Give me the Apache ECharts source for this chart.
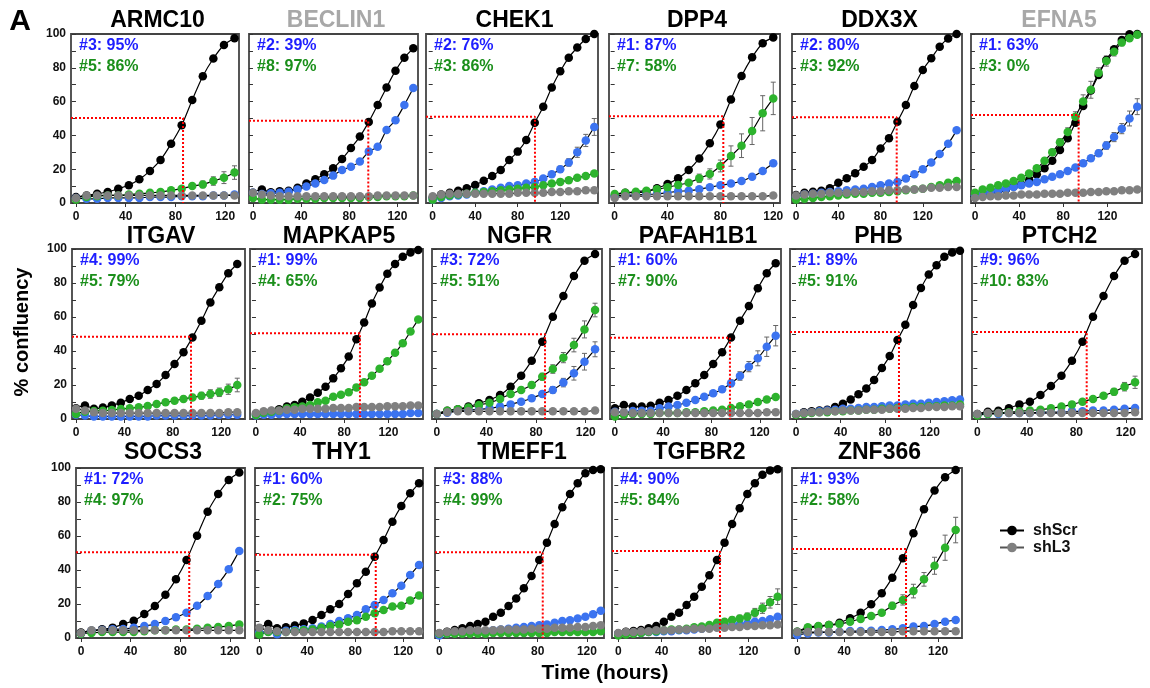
<!DOCTYPE html>
<html>
<head>
<meta charset="utf-8">
<title>confluency panels</title>
<script src="https://cdn.jsdelivr.net/npm/echarts@6/dist/echarts.min.js"></script>
<style>
  html, body { margin: 0; padding: 0; background: #fff; }
  #main { width: 1150px; height: 688px; }
</style>
</head>
<body>
<div id="main"></div>
<script>
// sampling times (hours)
var tA  = [0, 8.5, 17, 25.5, 34, 42.5, 51, 59.5, 68, 76.5, 85, 93.5, 102, 110.5, 119, 127.5];
var tA2 = [0, 8, 16, 24, 32, 40, 48, 56, 64, 72, 80, 88, 96, 104, 112, 120];
var tA3 = [0, 9, 18, 27, 36, 45, 54, 63, 72, 81, 90, 99, 108, 117, 126, 135];
var tB  = [0, 7.4, 14.8, 22.2, 29.6, 37, 44.4, 51.8, 59.2, 66.6, 74, 81.4, 88.8, 96.2, 103.6, 111, 118.4, 125.8, 133.2];
var tC  = [0, 8, 16, 24, 32, 40, 48, 56, 64, 72, 80, 88, 96, 104, 112, 120, 128, 136, 144, 152];
var tD  = [0, 7, 14, 21, 28, 35, 42, 49, 56, 63, 70, 77, 84, 91, 98, 105, 112, 119, 126, 133, 140, 147];
var tE  = [0, 6.25, 12.5, 18.75, 25, 31.25, 37.5, 43.75, 50, 56.25, 62.5, 68.75, 75, 81.25, 87.5, 93.75, 100, 106.25, 112.5, 118.75, 125, 131.25];

// % confluency: shScr (black), shL3 (gray), hairpin 1 (blue), hairpin 2 (green)
var armc10Scr = [3.5, 4.5, 5.5, 6.5, 8.5, 10.5, 14, 19, 25.5, 35, 46, 61, 75, 85.5, 93.5, 97.5];
var armc10L3  = [3, 4.5, 4.5, 4.5, 4.5, 4.5, 4.5, 4.5, 4.5, 4.5, 4.5, 4.5, 4.5, 4.5, 4.5, 4.5];
var armc10Kd1 = [3, 2.5, 2.5, 3, 3, 3, 3, 3.5, 3.5, 3.5, 4, 4, 4, 4.5, 4.5, 5];
var armc10Kd2 = [2, 3.5, 4, 4.5, 4.5, 5, 5.5, 6, 6.5, 7.5, 8.5, 10, 11, 13, 15, 18];

var beclin1Scr = [6, 8, 6.3, 7, 7.3, 9, 11.5, 14, 17, 20.5, 26, 32.5, 39.3, 48, 58, 68.4, 78.3, 86, 91.5];
var beclin1L3  = [6, 5, 4.5, 4, 4, 4, 4, 4, 4, 4, 4, 4, 4, 4, 4.5, 4.5, 4.5, 4.5, 4.5];
var beclin1Kd1 = [6, 5.3, 5.7, 6, 6.7, 8, 9.7, 11.6, 13.6, 16.2, 19.5, 21.5, 24.5, 30.4, 33.3, 43.2, 49, 58, 68];
var beclin1Kd2 = [3, 2, 2, 2, 2, 2.5, 2.5, 2.5, 3, 3, 3, 3, 3, 3.5, 3.5, 4, 4, 4, 4.5];

var chek1Scr = [3.2, 5, 6, 7.3, 8.7, 10.7, 13.2, 16, 19.5, 25.4, 30.4, 37.3, 47.5, 57, 68.4, 78, 86, 92, 97, 100];
var chek1L3  = [4, 5, 5.5, 5.5, 5.5, 5.5, 5.5, 5.5, 5.5, 5.5, 6, 6, 6, 6, 6.5, 6.5, 7, 7, 7.5, 7.5];
var chek1Kd1 = [2, 3, 4, 4.5, 5, 6, 7, 8, 9, 10, 10.5, 11.5, 12.5, 14.5, 17, 20, 24, 30, 37, 45];
var chek1Kd2 = [2, 3.5, 4.5, 5, 5.5, 6, 6.5, 7, 7.5, 8, 8.5, 9, 9.5, 10.5, 11.5, 12.5, 13.5, 15, 16, 17.5];

var dpp4Scr = [4.1, 6.1, 6.1, 6.7, 8.7, 11.2, 14.6, 19.5, 26.4, 35.3, 46.5, 61.3, 75.1, 86.2, 94.5, 98];
var dpp4L3  = [3, 4, 4, 4, 4, 4, 4, 4, 4, 4, 4, 4, 4, 4, 4, 4.5];
var dpp4Kd1 = [4.1, 4.7, 4.7, 5.1, 5.3, 6.1, 6.9, 7.3, 8.1, 9.3, 10.5, 11.5, 13, 15.5, 19, 23.5];
var dpp4Kd2 = [5.3, 6.1, 6.7, 7.3, 8.1, 9.3, 10.7, 12, 14.6, 17.2, 21.9, 27.8, 33.9, 42.6, 53.1, 61.9];

var ddx3xScr = [4.7, 6.1, 6.7, 7.3, 8.7, 12, 14.6, 17.6, 21.5, 25.4, 32.3, 38.3, 48.1, 58, 69.2, 78.7, 85.6, 92.5, 97.4, 100];
var ddx3xL3  = [4.5, 5, 5.5, 5.5, 6, 6, 6, 6.5, 6.5, 7, 7, 7.5, 7.5, 8, 8, 8.5, 9, 9, 9.5, 9.5];
var ddx3xKd1 = [3.5, 5, 5.5, 6, 6.5, 7, 7.5, 8, 8.5, 9.5, 10.5, 11.5, 12.5, 14.5, 17, 20, 24, 29, 35, 43];
var ddx3xKd2 = [2, 2.5, 3, 3.5, 4, 4.5, 5, 5.5, 5.5, 6, 6, 6.5, 7, 7.5, 8, 8.5, 9.5, 10.5, 12, 13];

var efna5Scr = [4, 5.3, 6, 7.3, 8, 9.7, 11, 13.6, 17, 20.5, 25, 31.3, 38.3, 47.5, 57.4, 66.5, 75.7, 84.6, 91, 96.4, 99.8, 100];
var efna5L3  = [3, 3.5, 4, 4, 4.5, 4.5, 5, 5, 5, 5.5, 5.5, 5.5, 6, 6, 6, 6.5, 6.5, 7, 7, 7.5, 7.5, 8];
var efna5Kd1 = [4.5, 5.5, 6.5, 7.5, 8.5, 9.5, 10.5, 11.5, 12.5, 14, 15.5, 17, 19, 21, 23.5, 26.5, 29.5, 34, 39, 44, 50, 57];
var efna5Kd2 = [6, 8, 9, 10.5, 11.5, 13, 15, 17.5, 20.5, 25, 30, 36, 42, 51, 60, 67, 77, 84, 89.5, 95, 97.5, 99.5];

var itgavScr = [6.3, 8, 6, 6.7, 8, 9.6, 11.8, 13.7, 17.1, 20.6, 25.9, 32.4, 39.2, 48, 57.8, 68.6, 77.5, 85.7, 91.2];
var itgavL3  = [6, 5, 4, 3.5, 3.5, 3.5, 3.5, 3.5, 3.5, 3.5, 3.5, 3.5, 3.5, 3.5, 3.5, 3.5, 3.5, 4, 4];
var itgavKd1 = [2.5, 2, 1.5, 1.5, 1.5, 1.5, 1.5, 1.5, 1.5, 2, 2, 2, 2, 2, 2, 2, 2.5, 2.5, 2.5];
var itgavKd2 = [2.9, 4.3, 4.7, 4.9, 5.3, 5.9, 6.3, 6.9, 7.6, 8.8, 9.8, 10.8, 11.8, 12.7, 13.7, 14.7, 15.7, 17.5, 20];

var mapkap5Scr = [3, 3.7, 4.7, 5.7, 7.3, 8.2, 10.2, 12.7, 15.5, 19, 23.9, 29.8, 36.7, 46.9, 56.7, 68, 77.3, 85.5, 91.2, 95.5, 98, 99.4];
var mapkap5L3  = [3.5, 4.5, 5, 5, 5.5, 5.5, 6, 6, 6, 6, 6.5, 6.5, 6.5, 7, 7, 7, 7, 7.5, 7.5, 7.5, 8, 8];
var mapkap5Kd1 = [2, 2.5, 2.5, 3, 3, 3, 3, 3, 3, 3, 3, 3, 3, 3, 3, 3, 3, 3, 3, 3, 3.5, 3.5];
var mapkap5Kd2 = [2.4, 3.7, 4.3, 4.9, 6.3, 6.9, 7.3, 8.2, 9.8, 10.8, 13.1, 14.3, 15.7, 18.6, 21.6, 25.5, 29.5, 34, 39, 44.5, 51.5, 58.5];

var ngfrScr = [2.9, 4.9, 5.7, 7.3, 9.2, 11.2, 14.1, 19, 25.5, 34.3, 45.5, 60.2, 72.4, 84.1, 93.1, 97.1];
var ngfrL3  = [3, 4, 4.5, 4.5, 4.5, 4.5, 4.5, 4.5, 4.5, 4.5, 4.5, 4.5, 4.5, 4.5, 4.5, 5];
var ngfrKd1 = [2.9, 3.7, 4.9, 5.3, 5.7, 6.3, 7.3, 8.6, 10.2, 12.2, 14.7, 17.1, 21.4, 26.9, 33.7, 41];
var ngfrKd2 = [2.9, 4.9, 5.7, 6.7, 8.2, 9.6, 11.8, 14.7, 17.1, 20, 24.9, 29.4, 36.1, 43.5, 52.7, 64.1];

var pafah1b1Scr = [6.3, 8.2, 7.3, 7.3, 7.8, 9.6, 11.2, 13.7, 17.1, 21, 25.9, 32.4, 39.2, 48, 57.8, 66.5, 76.9, 85.7, 91.6];
var pafah1b1L3  = [4, 4, 3.5, 3.5, 3.5, 3.5, 3.5, 3.5, 3.5, 3.5, 3.5, 3.5, 3.5, 3.5, 3.5, 3.5, 3.5, 4, 4];
var pafah1b1Kd1 = [4.3, 3.7, 4.7, 4.9, 4.9, 6.3, 7.3, 8.2, 9.6, 11.2, 13.1, 15.1, 17.5, 21, 25.3, 30.8, 35.7, 42.5, 49];
var pafah1b1Kd2 = [1.5, 2.5, 3, 3, 3, 3.5, 3.5, 3.5, 4, 4, 4.5, 5, 5.5, 6.5, 7.5, 8.5, 10, 11.5, 13];

var phbScr = [2.7, 4, 4.5, 5, 5.5, 7, 9, 11.5, 14.5, 18, 23, 30, 37, 46.5, 55.5, 67, 77, 85, 90.5, 95.5, 98, 99];
var phbL3  = [3, 3.5, 4, 4, 4.5, 4.5, 5, 5, 5, 5.5, 5.5, 5.5, 6, 6, 6, 6.5, 6.5, 7, 7, 7, 7.5, 7.5];
var phbKd1 = [3, 3.5, 4, 4.5, 5, 5.5, 6, 6, 6.5, 7, 7, 7.5, 8, 8, 8.5, 9, 9, 9.5, 10, 10.5, 11, 11.5];
var phbKd2 = [2.5, 3, 3.5, 4, 4, 4.5, 4.5, 5, 5, 5.5, 5.5, 6, 6, 6.5, 6.5, 7, 7, 7.5, 7.5, 8, 8, 8.5];

var ptch2Scr = [2.9, 4.3, 4.9, 6.3, 8.6, 10.2, 14.1, 19.4, 25.5, 34.3, 45.5, 60.2, 72.4, 84.1, 93.1, 97.1];
var ptch2L3  = [3, 3.5, 3.5, 3.5, 3.5, 3.5, 3.5, 3.5, 3.5, 3.5, 3.5, 3.5, 3.5, 3.5, 3.5, 4];
var ptch2Kd1 = [2.5, 3, 3, 3.5, 3.5, 3.5, 4, 4, 4, 4.5, 4.5, 5, 5, 5.5, 6, 6.5];
var ptch2Kd2 = [2, 3, 3.5, 4, 4.5, 5, 5.5, 6.3, 7.3, 8.6, 10.2, 11.8, 13.7, 16, 19, 21.6];

var socs3Scr = [3.3, 4.3, 5.1, 6.1, 8.2, 10.2, 14.1, 18.8, 25.5, 34.5, 45.9, 60.2, 74.3, 84.7, 92.9, 97.3];
var socs3L3  = [3, 4.5, 4.5, 4.5, 4.5, 4.5, 4.5, 4.5, 4.5, 4.5, 4.5, 4.5, 4.5, 4.5, 4.5, 4.5];
var socs3Kd1 = [2.7, 4.3, 4.7, 5.1, 5.3, 6.1, 7.1, 8.2, 10, 12.2, 14.9, 19, 24.7, 31.8, 40.4, 51.2];
var socs3Kd2 = [2.5, 3, 3.5, 3.5, 3.5, 3.5, 4, 4.5, 4.5, 5, 5, 5.5, 6, 6.5, 7, 8];

var thy1Scr = [5.7, 8.2, 5.7, 6.3, 7.3, 8.6, 10.6, 13.5, 16.9, 20, 25.9, 32.2, 39, 47.8, 57.6, 68.4, 77.6, 85.1, 91];
var thy1L3  = [6, 4.5, 4, 3.5, 3.5, 3.5, 3.5, 3.5, 3.5, 3.5, 3.5, 3.5, 3.5, 3.5, 3.5, 4, 4, 4, 4];
var thy1Kd1 = [3.3, 3.7, 2.2, 4.3, 4.7, 5.1, 5.7, 6.7, 8.2, 10, 11.6, 13.5, 16.9, 19.4, 22.4, 26.3, 30.8, 37, 43];
var thy1Kd2 = [2, 3.5, 3.5, 3.5, 4, 4.5, 5, 6, 7, 8, 9.5, 10.5, 12.5, 14.5, 16.5, 18.5, 19, 22, 25];

var tmeff1Scr = [2.7, 3.7, 4.7, 5.7, 7.1, 8.2, 9.6, 12.5, 14.9, 18.8, 23.3, 29.2, 36.5, 45.9, 56.1, 67.1, 76.9, 84.7, 91, 96.9, 98.8, 99.2];
var tmeff1L3  = [3, 3.5, 4, 4, 4.5, 4.5, 4.5, 4.5, 5, 5, 5, 5, 5.5, 5.5, 5.5, 6, 6, 6, 6.5, 6.5, 7, 7.5];
var tmeff1Kd1 = [1.5, 2.5, 3, 3, 3.5, 3.5, 4, 4.5, 5, 5.5, 6, 6.5, 7, 7.5, 8, 9, 10, 10.5, 11.5, 12.5, 14, 16];
var tmeff1Kd2 = [2.5, 2.5, 2.5, 2.5, 2.5, 2.5, 2.5, 3, 3, 3, 3, 3, 3, 3, 3, 3.5, 3.5, 3.5, 3.5, 3.5, 3.5, 4];

var tgfbr2Scr = [2.7, 3.7, 4.1, 4.7, 5.7, 7.1, 9.6, 12.5, 14.9, 19.4, 24.3, 30.2, 36.9, 45.9, 56.1, 67.1, 76.3, 84.7, 91, 96, 98.6, 99.2];
var tgfbr2L3  = [3, 3.5, 3.5, 4, 4, 4.5, 4.5, 4.5, 5, 5, 5.5, 5.5, 5.5, 6, 6, 6.5, 6.5, 7, 7, 7.5, 7.5, 8];
var tgfbr2Kd1 = [2.5, 2.5, 3, 3, 3.5, 3.5, 4, 4, 4.5, 4.5, 5, 5.5, 6, 6.5, 7, 7.5, 8, 8.5, 9.5, 10, 11, 12.5];
var tgfbr2Kd2 = [1.5, 2, 2.5, 3, 3.5, 4, 4.5, 5, 5, 5.5, 6.3, 6.7, 7.6, 9, 9.6, 10.6, 11.4, 12.5, 14.9, 17.5, 21, 24.3];

var znf366Scr = [3.7, 5.7, 6.7, 7.6, 9, 11.6, 14.9, 19.8, 26.3, 35.5, 46.9, 61.6, 75.7, 86.7, 94.5, 98.8];
var znf366L3  = [3.5, 3.5, 3.5, 3.5, 3.5, 3.5, 3.5, 3.5, 3.5, 3.5, 4, 4, 4, 4, 4, 4];
var znf366Kd1 = [1.8, 2.7, 3.3, 3.3, 3.7, 4.1, 4.1, 4.3, 4.7, 5.1, 5.7, 6.7, 7.1, 8.2, 9.6, 10.6];
var znf366Kd2 = [3.7, 6.3, 7.1, 7.6, 8.2, 9.6, 11.2, 12.9, 14.9, 19, 22.4, 27.6, 34.5, 42.5, 53.1, 63.5];

// error bars (± SEM) where they are visible
var armc10Kd2Err   = [0.3, 0.5, 0.5, 0.5, 0.5, 0.5, 0.5, 0.7, 0.8, 1, 1.2, 1.5, 2, 2.5, 3.5, 4];
var itgavKd2Err    = [0.3, 0.5, 0.5, 0.5, 0.5, 0.5, 0.5, 0.7, 0.8, 1, 1.2, 1.4, 1.6, 1.8, 2, 2.5, 2.5, 3, 4];
var chek1Kd1Err    = [0.3, 0.3, 0.3, 0.3, 0.3, 0.5, 0.5, 0.5, 0.5, 0.6, 0.7, 0.8, 1, 1.2, 1.5, 1.8, 2.2, 3, 3.6, 5];
var dpp4Kd2Err     = [0.5, 0.5, 0.5, 0.5, 0.5, 1, 1, 1.5, 2.5, 3, 3.5, 6, 7, 8, 10.4, 9.6];
var efna5Kd1Err    = [0.3, 0.3, 0.3, 0.4, 0.4, 0.5, 0.5, 0.5, 0.6, 0.7, 0.8, 0.9, 1, 1.1, 1.3, 1.5, 1.8, 2.2, 2.7, 3, 4.4, 4.7];
var efna5Kd2Err    = [0.5, 0.5, 0.5, 0.5, 0.6, 0.7, 0.8, 1, 1.2, 1.5, 1.8, 2, 2.5, 3, 4, 5, 3, 3, 2.5, 2, 1.5, 1];
var ngfrKd1Err     = [0.3, 0.3, 0.3, 0.4, 0.5, 0.5, 0.6, 0.8, 1, 1.2, 1.5, 2, 2.5, 4, 4.9, 4.4];
var ngfrKd2Err     = [0.3, 0.3, 0.4, 0.5, 0.6, 0.8, 1, 1.2, 1.5, 1.8, 2, 2.5, 3, 4, 5, 4];
var pafah1b1Kd1Err = [0.3, 0.3, 0.3, 0.4, 0.4, 0.5, 0.5, 0.6, 0.7, 0.8, 1, 1.2, 1.5, 2, 2.5, 3, 4.4, 5.7, 6];
var ptch2Kd2Err    = [0.3, 0.3, 0.3, 0.4, 0.4, 0.5, 0.5, 0.6, 0.7, 0.8, 1, 1.2, 1.5, 2, 2.5, 3.6];
var tgfbr2Kd2Err   = [0.3, 0.3, 0.3, 0.3, 0.4, 0.4, 0.5, 0.5, 0.6, 0.6, 0.7, 0.8, 1, 1.2, 1.5, 1.8, 2, 2.2, 2.5, 3, 3.4, 4.6];
var znf366Kd2Err   = [0.5, 0.5, 0.5, 0.5, 0.5, 0.5, 1, 1, 1.5, 2, 3, 4, 4, 5, 7.4, 7.5];

// panel texts and the half-max (T50) guide
var genes = ['ARMC10', 'BECLIN1', 'CHEK1', 'DPP4', 'DDX3X', 'EFNA5',
             'ITGAV', 'MAPKAP5', 'NGFR', 'PAFAH1B1', 'PHB', 'PTCH2',
             'SOCS3', 'THY1', 'TMEFF1', 'TGFBR2', 'ZNF366'];
var kd1Labels = ['#3: 95%', '#2: 39%', '#2: 76%', '#1: 87%', '#2: 80%', '#1: 63%',
                 '#4: 99%', '#1: 99%', '#3: 72%', '#1: 60%', '#1: 89%', '#9: 96%',
                 '#1: 72%', '#1: 60%', '#3: 88%', '#4: 90%', '#1: 93%'];
var kd2Labels = ['#5: 86%', '#8: 97%', '#3: 86%', '#7: 58%', '#3: 92%', '#3: 0%',
                 '#5: 79%', '#4: 65%', '#5: 51%', '#7: 90%', '#5: 91%', '#10: 83%',
                 '#4: 97%', '#2: 75%', '#4: 99%', '#5: 84%', '#2: 58%'];
var halfTimes  = [86.1, 95.8, 96.2, 82.2, 95.3, 93.9, 95, 94.2, 87.2, 95.3, 92.3, 88.4, 87.2, 97.1, 84.1, 93.8, 92.7];
var halfLevels = [50.3, 48.7, 51, 51.3, 50.7, 52, 48.4, 50.4, 49.8, 47.8, 51.2, 51.2, 50.4, 49, 50.4, 51.2, 52.4];
var xTickValues = [0, 40, 80, 120];

// layout of each small panel
var rowTops = [34, 249, 468];
var rowHeights = [169, 170, 170];
var titleYs = [21, 236.5, 453];
var panels = [
  { t: tA,  scr: armc10Scr,   l3: armc10L3,   kd1: armc10Kd1,   kd2: armc10Kd2,   e1: null,           e2: armc10Kd2Err,  row: 0, left: 71,  width: 168, xMin: -4.0, xMax: 131.1 },
  { t: tB,  scr: beclin1Scr,  l3: beclin1L3,  kd1: beclin1Kd1,  kd2: beclin1Kd2,  e1: null,           e2: null,          row: 0, left: 249, width: 169, xMin: -3.3, xMax: 137.1, faded: true },
  { t: tC,  scr: chek1Scr,    l3: chek1L3,    kd1: chek1Kd1,    kd2: chek1Kd2,    e1: chek1Kd1Err,    e2: null,          row: 0, left: 426, width: 172, xMin: -6.3, xMax: 155.5 },
  { t: tA2, scr: dpp4Scr,     l3: dpp4L3,     kd1: dpp4Kd1,     kd2: dpp4Kd2,     e1: null,           e2: dpp4Kd2Err,    row: 0, left: 609, width: 171, xMin: -4.3, xMax: 125.1 },
  { t: tC,  scr: ddx3xScr,    l3: ddx3xL3,    kd1: ddx3xKd1,    kd2: ddx3xKd2,    e1: null,           e2: null,          row: 0, left: 792, width: 170, xMin: -3.8, xMax: 157.1 },
  { t: tD,  scr: efna5Scr,    l3: efna5L3,    kd1: efna5Kd1,    kd2: efna5Kd2,    e1: efna5Kd1Err,    e2: efna5Kd2Err,   row: 0, left: 971, width: 171, xMin: -3.6, xMax: 151.3, faded: true },
  { t: tB,  scr: itgavScr,    l3: itgavL3,    kd1: itgavKd1,    kd2: itgavKd2,    e1: null,           e2: itgavKd2Err,   row: 1, left: 72,  width: 173, xMin: -3.3, xMax: 139.6 },
  { t: tD,  scr: mapkap5Scr,  l3: mapkap5L3,  kd1: mapkap5Kd1,  kd2: mapkap5Kd2,  e1: null,           e2: null,          row: 1, left: 250, width: 173, xMin: -5.4, xMax: 151.3 },
  { t: tA,  scr: ngfrScr,     l3: ngfrL3,     kd1: ngfrKd1,     kd2: ngfrKd2,     e1: ngfrKd1Err,     e2: ngfrKd2Err,    row: 1, left: 432, width: 170, xMin: -3.8, xMax: 133.1 },
  { t: tB,  scr: pafah1b1Scr, l3: pafah1b1L3, kd1: pafah1b1Kd1, kd2: pafah1b1Kd2, e1: pafah1b1Kd1Err, e2: null,          row: 1, left: 610, width: 171, xMin: -4.1, xMax: 137.6 },
  { t: tD,  scr: phbScr,      l3: phbL3,      kd1: phbKd1,      kd2: phbKd2,      e1: null,           e2: null,          row: 1, left: 790, width: 172, xMin: -5.4, xMax: 148.8 },
  { t: tA,  scr: ptch2Scr,    l3: ptch2L3,    kd1: ptch2Kd1,    kd2: ptch2Kd2,    e1: null,           e2: ptch2Kd2Err,   row: 1, left: 972, width: 170, xMin: -4.3, xMax: 133.1 },
  { t: tA,  scr: socs3Scr,    l3: socs3L3,    kd1: socs3Kd1,    kd2: socs3Kd2,    e1: null,           e2: null,          row: 2, left: 76,  width: 169, xMin: -4.0, xMax: 132.1 },
  { t: tB,  scr: thy1Scr,     l3: thy1L3,     kd1: thy1Kd1,     kd2: thy1Kd2,     e1: null,           e2: null,          row: 2, left: 255, width: 168, xMin: -3.6, xMax: 136.5 },
  { t: tE,  scr: tmeff1Scr,   l3: tmeff1L3,   kd1: tmeff1Kd1,   kd2: tmeff1Kd2,   e1: null,           e2: null,          row: 2, left: 435, width: 169, xMin: -3.5, xMax: 133.9 },
  { t: tD,  scr: tgfbr2Scr,   l3: tgfbr2L3,   kd1: tgfbr2Kd1,   kd2: tgfbr2Kd2,   e1: null,           e2: tgfbr2Kd2Err,  row: 2, left: 612, width: 170, xMin: -5.8, xMax: 151 },
  { t: tA3, scr: znf366Scr,   l3: znf366L3,   kd1: znf366Kd1,   kd2: znf366Kd2,   e1: null,           e2: znf366Kd2Err,  row: 2, left: 792, width: 170, xMin: -4.5, xMax: 140.4 }
];

var FONT = '"Liberation Sans", Arial, Helvetica, sans-serif';
var COL_SCR = '#000000', COL_L3 = '#808080', COL_KD1 = '#3b73f0', COL_KD2 = '#2db32d';

var chart = echarts.init(document.getElementById('main'));

function pairs(xs, ys) {
  return xs.map(function(x, k) { return [x, ys[k]]; });
}

function curve(name, idx, xs, ys, color) {
  return {
    type: 'line', name: name, xAxisIndex: idx, yAxisIndex: idx,
    data: pairs(xs, ys),
    smooth: 0.3,
    symbol: 'circle', symbolSize: 8.5,
    itemStyle: { color: color },
    lineStyle: { color: '#000', width: 1.2 },
    z: 3, silent: true, animation: false
  };
}

function errorBars(idx, xs, ys, es) {
  return {
    type: 'custom', xAxisIndex: idx, yAxisIndex: idx, z: 2, silent: true, animation: false,
    data: xs.map(function(x, k) { return [x, ys[k], es[k]]; }),
    renderItem: function(params, api) {
      var x = api.value(0), y = api.value(1), e = api.value(2);
      var hi = api.coord([x, y + e]), lo = api.coord([x, y - e]);
      var w = 2.5, st = { stroke: '#666', lineWidth: 1 };
      return {
        type: 'group', children: [
          { type: 'line', shape: { x1: hi[0], y1: hi[1], x2: lo[0], y2: lo[1] }, style: st },
          { type: 'line', shape: { x1: hi[0] - w, y1: hi[1], x2: hi[0] + w, y2: hi[1] }, style: st },
          { type: 'line', shape: { x1: lo[0] - w, y1: lo[1], x2: lo[0] + w, y2: lo[1] }, style: st }
        ]
      };
    }
  };
}

function txt(x, y, text, font, color, align, extra) {
  var el = {
    type: 'text', x: x, y: y, silent: true,
    style: {
      text: text, font: font, fill: color,
      align: align, verticalAlign: 'middle',
      textAlign: align, textVerticalAlign: 'middle'
    }
  };
  if (extra) { for (var k in extra) el[k] = extra[k]; }
  return el;
}

var grids = [], xAxes = [], yAxes = [], series = [], graphics = [];

panels.forEach(function(p, i) {
  var top = rowTops[p.row], h = rowHeights[p.row];
  var firstCol = (i === 0 || i === 6 || i === 12);
  grids.push({
    left: p.left, top: top, width: p.width, height: h,
    show: true, borderColor: '#444', borderWidth: 1.8, backgroundColor: 'transparent'
  });
  xAxes.push({
    type: 'value', gridIndex: i, min: p.xMin, max: p.xMax,
    splitLine: { show: false },
    axisLine: { show: false },
    axisTick: { show: true, customValues: xTickValues, length: 4, lineStyle: { color: '#333', width: 1 } },
    axisLabel: { customValues: xTickValues, margin: 8, fontFamily: FONT, fontSize: 12, fontWeight: 'bold', color: '#111' }
  });
  yAxes.push({
    type: 'value', gridIndex: i, min: 0, max: 100, interval: 10,
    splitLine: { show: false },
    axisLine: { show: false },
    axisTick: { show: true, length: 4, lineStyle: { color: '#333', width: 1 } },
    axisLabel: {
      show: firstCol, margin: 5, fontFamily: FONT, fontSize: 12, fontWeight: 'bold', color: '#111',
      formatter: function(v) { return v % 20 === 0 ? String(v) : ''; }
    }
  });

  if (p.e1) series.push(errorBars(i, p.t, p.kd1, p.e1));
  if (p.e2) series.push(errorBars(i, p.t, p.kd2, p.e2));
  series.push(curve('shScr', i, p.t, p.scr, COL_SCR));
  series.push(curve('kd1', i, p.t, p.kd1, COL_KD1));
  series.push(curve('kd2', i, p.t, p.kd2, COL_KD2));
  series.push(curve('shL3', i, p.t, p.l3, COL_L3));
  // T50 guide: dotted red from the y axis to the curve, then down to the x axis
  series.push({
    type: 'line', xAxisIndex: i, yAxisIndex: i, silent: true, animation: false, z: 5,
    symbol: 'none',
    data: [[p.xMin, halfLevels[i]], [halfTimes[i], halfLevels[i]], [halfTimes[i], 0]],
    lineStyle: { color: '#ff0000', width: 2, type: [2, 2] }
  });

  graphics.push(txt(p.left + p.width / 2 + 2.5, titleYs[p.row], genes[i],
    'bold 23px ' + FONT, p.faded ? '#a8a8a8' : '#000', 'center'));
  graphics.push(txt(p.left + 8, top + 12, kd1Labels[i], 'bold 16px ' + FONT, '#1e1eff', 'left'));
  graphics.push(txt(p.left + 8, top + 33, kd2Labels[i], 'bold 16px ' + FONT, '#1b8f1b', 'left'));
});

graphics.push(txt(20, 22, 'A', 'bold 30px ' + FONT, '#000', 'center'));
graphics.push(txt(22, 332, '% confluency', 'bold 20px ' + FONT, '#000', 'center', { rotation: Math.PI / 2 }));
graphics.push(txt(605, 673, 'Time (hours)', 'bold 21px ' + FONT, '#000', 'center'));

var option = {
  animation: false,
  backgroundColor: '#fff',
  textStyle: { fontFamily: FONT },
  grid: grids,
  xAxis: xAxes,
  yAxis: yAxes,
  legend: {
    data: [
      { name: 'shScr' },
      { name: 'shL3', lineStyle: { color: '#555' } }
    ],
    orient: 'vertical', left: 994, top: 517,
    itemWidth: 24, itemHeight: 12, itemGap: 0,
    selectedMode: false,
    textStyle: { fontFamily: FONT, fontSize: 16, fontWeight: 'bold', color: '#111', lineHeight: 17, padding: [0, 0, 0, 4] }
  },
  series: series,
  graphic: graphics
};

chart.setOption(option);
</script>
</body>
</html>
